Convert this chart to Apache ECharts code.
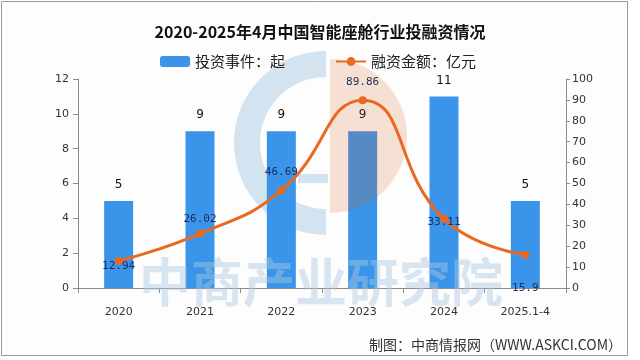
<!DOCTYPE html>
<html>
<head>
<meta charset="utf-8">
<script src="https://cdn.jsdelivr.net/npm/echarts@6/dist/echarts.min.js"></script>
<style>
html,body{margin:0;padding:0;background:#ffffff;}
#main{width:640px;height:360px;}
</style>
</head>
<body>
<div id="main"></div>
<script>
// ---- data ----
const titleText = '2020-2025年4月中国智能座舱行业投融资情况';
const categories = ['2020', '2021', '2022', '2023', '2024', '2025.1-4'];
const investCount = [5, 9, 9, 9, 11, 5];          // 投资事件：起
const financeAmount = [12.94, 26.02, 46.69, 89.86, 33.11, 15.9]; // 融资金额：亿元
const leftAxisMax = 12, leftAxisStep = 2;
const rightAxisMax = 100, rightAxisStep = 10;
const seriesNames = ['投资事件：起', '融资金额：亿元'];
const sourceText = '制图：中商情报网（WWW.ASKCI.COM）';
const watermarkText = '中商产业研究院';

// per-point label placement for the line
const lineLabelPlace = [
  {position: 'inside', offset: [0, 5]},
  {position: 'top', distance: 5},
  {position: 'top', distance: 9},
  {position: 'top', distance: 9},
  {position: 'inside', offset: [0, 3]},
  {position: 'bottom', distance: 24}
];

const chart = echarts.init(document.getElementById('main'), null, {renderer: 'canvas'});

const lineData = financeAmount.map((v, i) => ({
  value: v,
  label: Object.assign({show: true}, lineLabelPlace[i])
}));

const option = {
  backgroundColor: '#ffffff',
  animation: false,
  title: {
    text: titleText,
    left: 'center',
    top: 19,
    textStyle: {fontFamily: '"Noto Sans CJK SC"', fontSize: 16, fontWeight: 'bold', color: '#111111'}
  },
  legend: {
    left: 155,
    top: 49,
    itemWidth: 30,
    itemHeight: 11,
    itemGap: 50,
    textStyle: {fontFamily: '"Noto Sans CJK SC"', fontSize: 15, color: '#222222', padding: [0, 0, 0, 0]},
    data: seriesNames
  },
  grid: {left: 78, right: 74, top: 79, bottom: 72, containLabel: false},
  xAxis: {
    type: 'category',
    data: categories,
    boundaryGap: true,
    axisLine: {lineStyle: {color: '#8c8c8c', width: 1}},
    axisTick: {show: true, length: 5, lineStyle: {color: '#8c8c8c'}},
    axisLabel: {color: '#333333', fontFamily: '"DejaVu Sans"', fontSize: 11, margin: 19}
  },
  yAxis: [
    {
      type: 'value', min: 0, max: leftAxisMax, interval: leftAxisStep,
      splitLine: {show: false},
      axisLine: {show: true, lineStyle: {color: '#8c8c8c'}},
      axisTick: {show: true, length: 5, lineStyle: {color: '#8c8c8c'}},
      axisLabel: {color: '#333333', fontFamily: '"DejaVu Sans"', fontSize: 11, margin: 9}
    },
    {
      type: 'value', min: 0, max: rightAxisMax, interval: rightAxisStep,
      position: 'right',
      splitLine: {show: false},
      axisLine: {show: true, lineStyle: {color: '#8c8c8c'}},
      axisTick: {show: true, length: 4, lineStyle: {color: '#8c8c8c'}},
      axisLabel: {color: '#333333', fontFamily: '"DejaVu Sans"', fontSize: 11, margin: 6}
    }
  ],
  series: [
    {
      name: seriesNames[0],
      type: 'bar',
      yAxisIndex: 0,
      data: investCount,
      barWidth: 29,
      z: 2,
      itemStyle: {color: '#3a95ea'},
      label: {show: true, position: 'top', distance: 10, color: '#111111', fontFamily: '"DejaVu Sans"', fontSize: 12}
    },
    {
      name: seriesNames[1],
      type: 'line',
      yAxisIndex: 1,
      data: lineData,
      smooth: 0.5,
      z: 5,
      symbol: 'circle',
      symbolSize: 8,
      lineStyle: {color: '#e8691f', width: 3},
      itemStyle: {color: '#e8691f'},
      label: {color: '#1c2b5a', fontFamily: '"DejaVu Sans Mono"', fontSize: 11}
    }
  ],
  graphic: [
    {
      type: 'rect', z: -10, silent: true,
      shape: {x: 1.5, y: 1.5, width: 626, height: 354},
      style: {fill: '#fdfdfe', stroke: '#9a9a9a', lineWidth: 1}
    },
    {
      type: 'sector', z: -5, silent: true,
      shape: {cx: 326, cy: 143, r: 92, r0: 66, startAngle: Math.PI / 2, endAngle: Math.PI * 1.5, clockwise: true},
      style: {fill: '#d3e3f0'}
    },
    {
      type: 'rect', z: -5, silent: true,
      shape: {x: 298, y: 174, width: 30, height: 9},
      style: {fill: '#d3e3f0'}
    },
    {
      type: 'sector', z: 3, silent: true,
      shape: {cx: 330, cy: 136, r: 77, r0: 0, startAngle: -Math.PI / 2, endAngle: Math.PI / 2, clockwise: true},
      style: {fill: 'rgba(214,90,19,0.18)'}
    },
    {
      type: 'text', z: 3, silent: true,
      style: {
        text: watermarkText, x: 321, y: 282,
        font: 'bold 52px "Noto Sans CJK SC"',
        fill: 'rgba(170,200,225,0.45)',
        textAlign: 'center', textVerticalAlign: 'middle'
      }
    },
    {
      type: 'text', z: 3, silent: true,
      style: {
        text: sourceText, x: 622, y: 345,
        font: '14px "Noto Sans CJK SC"',
        fill: '#333333',
        textAlign: 'right', textVerticalAlign: 'middle'
      }
    }
  ]
};

chart.setOption(option);
</script>
</body>
</html>
